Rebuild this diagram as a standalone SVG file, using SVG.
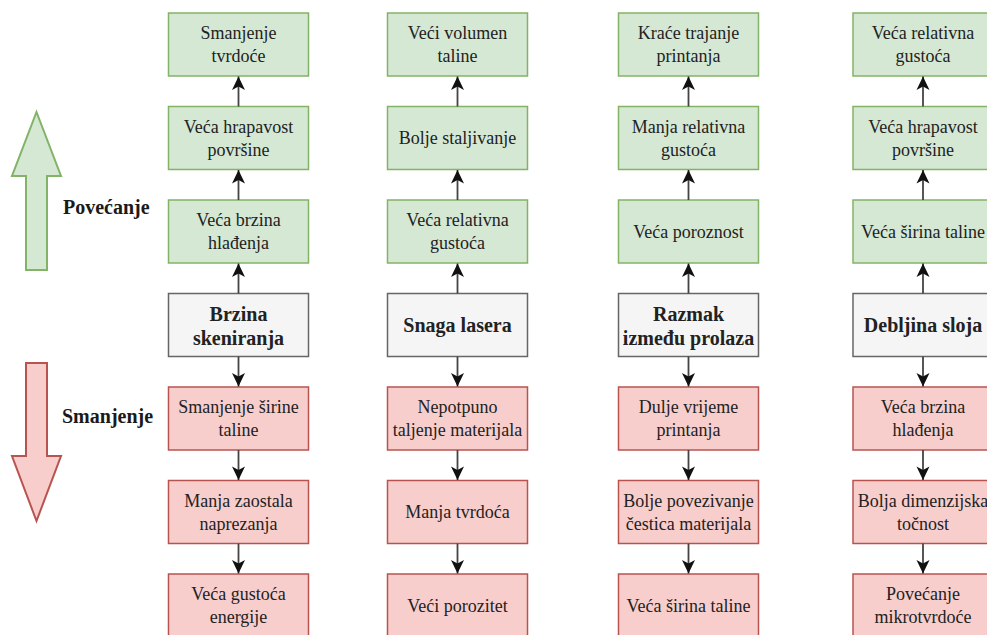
<svg xmlns="http://www.w3.org/2000/svg" width="987" height="635" viewBox="0 0 987 635">
<defs>
<marker id="ah" markerUnits="userSpaceOnUse" markerWidth="16" markerHeight="16" viewBox="0 0 16 16" refX="14.5" refY="8" orient="auto">
<path d="M1,1.5 L14.5,8 L1,14.5 L4.5,8 z" fill="#111"/>
</marker>
<style>
.g rect{fill:#d5e8d4;stroke:#82b366;stroke-width:1.5}
.r rect{fill:#f8cecc;stroke:#b85450;stroke-width:1.5}
.p rect{fill:#f5f5f5;stroke:#666666;stroke-width:1.5}
text{font-family:"Liberation Serif","Times New Roman",serif;font-size:18px;fill:#222;text-anchor:middle}
.p text,.lbl{font-weight:bold;font-size:20px}
.lbl{text-anchor:start;fill:#1a1a1a}
#connectors line{stroke:#444;stroke-width:1.8;marker-end:url(#ah)}
</style>
</defs>
<rect width="987" height="635" fill="#ffffff"/>

<g id="arrow-up"><polygon points="36.5,112 61,176 47,176 47,270 26,270 26,176 12,176" fill="#d5e8d4" stroke="#82b366" stroke-width="2"/></g>
<g id="arrow-down"><polygon points="26,363 47,363 47,456 61,456 36.5,521 12,456 26,456" fill="#f8cecc" stroke="#b85450" stroke-width="2"/></g>
<text class="lbl" x="63" y="214">Povećanje</text>
<text class="lbl" x="62" y="423">Smanjenje</text>

<!-- Column 1 -->
<g id="c1r1" class="g"><rect x="168.5" y="13" width="140" height="63"/><text x="238.5" y="39">Smanjenje</text><text x="238.5" y="62">tvrdoće</text></g>
<g id="c1r2" class="g"><rect x="168.5" y="106.5" width="140" height="63"/><text x="238.5" y="132.5">Veća hrapavost</text><text x="238.5" y="155.5">površine</text></g>
<g id="c1r3" class="g"><rect x="168.5" y="200" width="140" height="63"/><text x="238.5" y="226">Veća brzina</text><text x="238.5" y="249">hlađenja</text></g>
<g id="c1r4" class="p"><rect x="168.5" y="293.5" width="140" height="63"/><text x="238.5" y="321">Brzina</text><text x="238.5" y="345">skeniranja</text></g>
<g id="c1r5" class="r"><rect x="168.5" y="387" width="140" height="63"/><text x="238.5" y="413">Smanjenje širine</text><text x="238.5" y="436">taline</text></g>
<g id="c1r6" class="r"><rect x="168.5" y="480.5" width="140" height="63"/><text x="238.5" y="506.5">Manja zaostala</text><text x="238.5" y="529.5">naprezanja</text></g>
<g id="c1r7" class="r"><rect x="168.5" y="574" width="140" height="63"/><text x="238.5" y="600">Veća gustoća</text><text x="238.5" y="623">energije</text></g>

<!-- Column 2 -->
<g id="c2r1" class="g"><rect x="387.5" y="13" width="140" height="63"/><text x="457.5" y="39">Veći volumen</text><text x="457.5" y="62">taline</text></g>
<g id="c2r2" class="g"><rect x="387.5" y="106.5" width="140" height="63"/><text x="457.5" y="144">Bolje staljivanje</text></g>
<g id="c2r3" class="g"><rect x="387.5" y="200" width="140" height="63"/><text x="457.5" y="226">Veća relativna</text><text x="457.5" y="249">gustoća</text></g>
<g id="c2r4" class="p"><rect x="387.5" y="293.5" width="140" height="63"/><text x="457.5" y="332">Snaga lasera</text></g>
<g id="c2r5" class="r"><rect x="387.5" y="387" width="140" height="63"/><text x="457.5" y="413">Nepotpuno</text><text x="457.5" y="436">taljenje materijala</text></g>
<g id="c2r6" class="r"><rect x="387.5" y="480.5" width="140" height="63"/><text x="457.5" y="518">Manja tvrdoća</text></g>
<g id="c2r7" class="r"><rect x="387.5" y="574" width="140" height="63"/><text x="457.5" y="611.5">Veći porozitet</text></g>

<!-- Column 3 -->
<g id="c3r1" class="g"><rect x="618.5" y="13" width="140" height="63"/><text x="688.5" y="39">Kraće trajanje</text><text x="688.5" y="62">printanja</text></g>
<g id="c3r2" class="g"><rect x="618.5" y="106.5" width="140" height="63"/><text x="688.5" y="132.5">Manja relativna</text><text x="688.5" y="155.5">gustoća</text></g>
<g id="c3r3" class="g"><rect x="618.5" y="200" width="140" height="63"/><text x="688.5" y="237.5">Veća poroznost</text></g>
<g id="c3r4" class="p"><rect x="618.5" y="293.5" width="140" height="63"/><text x="688.5" y="321">Razmak</text><text x="688.5" y="345">između prolaza</text></g>
<g id="c3r5" class="r"><rect x="618.5" y="387" width="140" height="63"/><text x="688.5" y="413">Dulje vrijeme</text><text x="688.5" y="436">printanja</text></g>
<g id="c3r6" class="r"><rect x="618.5" y="480.5" width="140" height="63"/><text x="688.5" y="506.5">Bolje povezivanje</text><text x="688.5" y="529.5">čestica materijala</text></g>
<g id="c3r7" class="r"><rect x="618.5" y="574" width="140" height="63"/><text x="688.5" y="611.5">Veća širina taline</text></g>

<!-- Column 4 -->
<g id="c4r1" class="g"><rect x="853" y="13" width="140" height="63"/><text x="923" y="39">Veća relativna</text><text x="923" y="62">gustoća</text></g>
<g id="c4r2" class="g"><rect x="853" y="106.5" width="140" height="63"/><text x="923" y="132.5">Veća hrapavost</text><text x="923" y="155.5">površine</text></g>
<g id="c4r3" class="g"><rect x="853" y="200" width="140" height="63"/><text x="923" y="237.5">Veća širina taline</text></g>
<g id="c4r4" class="p"><rect x="853" y="293.5" width="140" height="63"/><text x="923" y="332">Debljina sloja</text></g>
<g id="c4r5" class="r"><rect x="853" y="387" width="140" height="63"/><text x="923" y="413">Veća brzina</text><text x="923" y="436">hlađenja</text></g>
<g id="c4r6" class="r"><rect x="853" y="480.5" width="140" height="63"/><text x="923" y="506.5">Bolja dimenzijska</text><text x="923" y="529.5">točnost</text></g>
<g id="c4r7" class="r"><rect x="853" y="574" width="140" height="63"/><text x="923" y="600">Povećanje</text><text x="923" y="623">mikrotvrdoće</text></g>

<g id="connectors">
<line x1="238.5" y1="106.5" x2="238.5" y2="76.5"/>
<line x1="238.5" y1="200" x2="238.5" y2="170"/>
<line x1="238.5" y1="293.5" x2="238.5" y2="263.5"/>
<line x1="238.5" y1="356.5" x2="238.5" y2="386.5"/>
<line x1="238.5" y1="450" x2="238.5" y2="480"/>
<line x1="238.5" y1="543.5" x2="238.5" y2="573.5"/>
<line x1="457.5" y1="106.5" x2="457.5" y2="76.5"/>
<line x1="457.5" y1="200" x2="457.5" y2="170"/>
<line x1="457.5" y1="293.5" x2="457.5" y2="263.5"/>
<line x1="457.5" y1="356.5" x2="457.5" y2="386.5"/>
<line x1="457.5" y1="450" x2="457.5" y2="480"/>
<line x1="457.5" y1="543.5" x2="457.5" y2="573.5"/>
<line x1="688.5" y1="106.5" x2="688.5" y2="76.5"/>
<line x1="688.5" y1="200" x2="688.5" y2="170"/>
<line x1="688.5" y1="293.5" x2="688.5" y2="263.5"/>
<line x1="688.5" y1="356.5" x2="688.5" y2="386.5"/>
<line x1="688.5" y1="450" x2="688.5" y2="480"/>
<line x1="688.5" y1="543.5" x2="688.5" y2="573.5"/>
<line x1="923" y1="106.5" x2="923" y2="76.5"/>
<line x1="923" y1="200" x2="923" y2="170"/>
<line x1="923" y1="293.5" x2="923" y2="263.5"/>
<line x1="923" y1="356.5" x2="923" y2="386.5"/>
<line x1="923" y1="450" x2="923" y2="480"/>
<line x1="923" y1="543.5" x2="923" y2="573.5"/>
</g>
</svg>
